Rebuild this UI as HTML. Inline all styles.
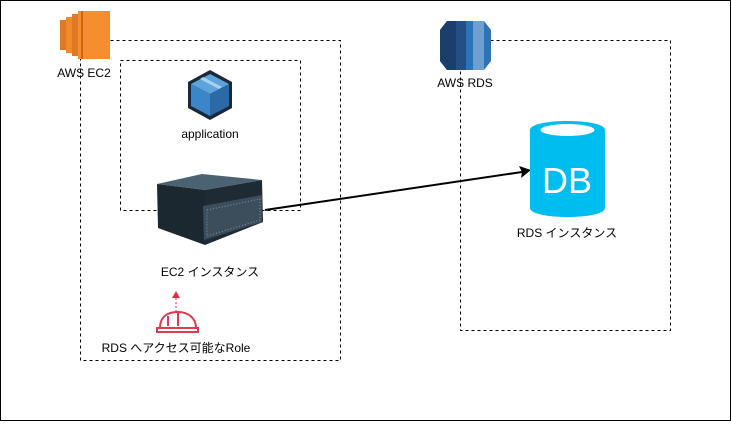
<!DOCTYPE html>
<html><head><meta charset="utf-8"><style>
body{margin:0;width:731px;height:421px;overflow:hidden;background:#fff}
svg text{font-family:"Liberation Sans","Noto Sans CJK JP",sans-serif;font-size:12px;fill:#000}
</style></head><body>
<svg width="731" height="421" viewBox="0 0 731 421" xmlns="http://www.w3.org/2000/svg">
<rect x="0.5" y="0.5" width="730" height="420" fill="#fff" stroke="#000"/>
<rect x="80.5" y="40.5" width="260" height="320" fill="none" stroke="#000" stroke-dasharray="3,3"/>
<rect x="120.5" y="60.5" width="180" height="150" fill="none" stroke="#000" stroke-dasharray="3,3"/>
<rect x="460.5" y="40.5" width="210" height="290" fill="none" stroke="#000" stroke-dasharray="3,3"/>
<!-- EC2 icon -->
<g>
<rect x="60" y="20" width="6" height="30" fill="#e07a22"/>
<rect x="66" y="17" width="6" height="36" fill="#f08a2a"/>
<rect x="72" y="14" width="6" height="42" fill="#e07a22"/>
<rect x="78" y="11" width="32" height="48" fill="#f68d2e"/>
<rect x="81" y="11" width="2" height="48" fill="#c96515"/>
</g>
<text x="84" y="77" text-anchor="middle">AWS EC2</text>
<!-- RDS icon -->
<g>
<path d="M440,30 L447,21 H484 L491,30 V61 L484,70 H447 L440,61 Z" fill="#2e73b8"/>
<path d="M440,30 L447,21 H456 V70 H447 L440,61 Z" fill="#1a3f6b"/>
<rect x="456" y="21" width="10" height="49" fill="#234f84"/>
<rect x="473" y="21" width="11" height="49" fill="#6e9fcf"/>
</g>
<text x="465" y="87" text-anchor="middle">AWS RDS</text>
<!-- app icon -->
<g>
<path d="M210,70 L232,82 V108 L210,120 L188,108 V82 Z" fill="#1b2838"/>
<path d="M210,74 L229,84 L210,94 L191,84 Z" fill="#5ea4dc"/>
<path d="M191,84 L210,94 V116 L191,106 Z" fill="#3a86c8"/>
<path d="M229,84 L210,94 V116 L229,106 Z" fill="#2b6aa6"/>
<path d="M200,79 L219,89 L222,87 L203,77 Z" fill="#a9d0ef"/>
</g>
<text x="210" y="138" text-anchor="middle">application</text>
<!-- server -->
<g>
<path d="M157,184 L202,174 L262,180 L205,190 Z" fill="#4a6272"/>
<path d="M157,184 L205,190 L205,245 L158,228 Z" fill="#1c2830"/>
<path d="M205,190 L262,180 L263,222 L205,245 Z" fill="#1e2a34"/>
<path d="M203,206 L262,195 L262,222 L204,240 Z" fill="#3c4e5c"/>
<path d="M207,210 L260,199 L260,220 L207,236 Z" fill="none" stroke="#7d93a0" stroke-width="1" stroke-dasharray="1,2"/>
</g>
<text x="210" y="276" text-anchor="middle">EC2 インスタンス</text>
<!-- role helmet -->
<line x1="176" y1="312" x2="176" y2="296" stroke="#e03040" stroke-dasharray="2,2"/>
<path d="M172,298 L176,291 L180,298 Z" fill="#e03040"/>
<path d="M160,328 C160,316 168,312 178,312 C188,312 196,318 196,328 M157,328 H198 V332 H157 Z M168,316 L168,326 M178,313 V326" fill="none" stroke="#e03a52" stroke-width="2"/>
<text x="176" y="352" text-anchor="middle">RDS へアクセス可能なRole</text>
<!-- arrow -->
<line x1="265" y1="210" x2="522" y2="172" stroke="#000" stroke-width="2"/>
<path d="M531,170 L519,166 L522,172 L521,178 Z" fill="#000"/>
<!-- DB -->
<g>
<path d="M530,130 C530,118 605,118 605,130 V208 C605,220 530,220 530,208 Z" fill="#00bdf0"/>
<ellipse cx="567.5" cy="130" rx="27" ry="6" fill="#fff"/>
<text x="567" y="193" text-anchor="middle" style="font-size:36px;fill:#fff">DB</text>
</g>
<text x="567" y="237" text-anchor="middle">RDS インスタンス</text>
</svg>
</body></html>
